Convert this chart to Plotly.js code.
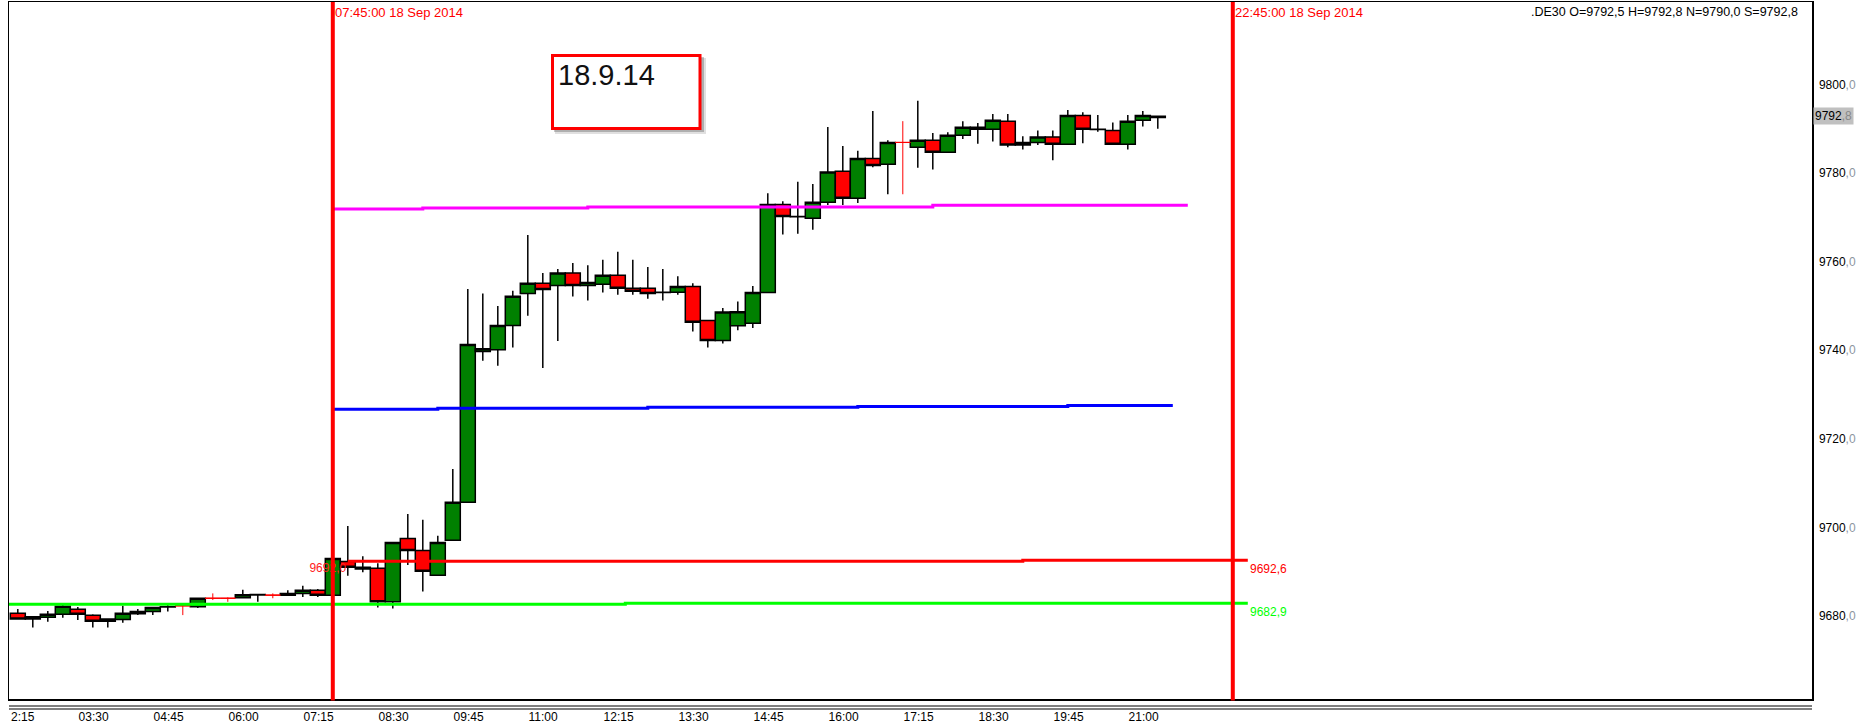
<!DOCTYPE html>
<html><head><meta charset="utf-8">
<script src="https://cdn.plot.ly/plotly-3.0.1.min.js"></script>
<style>html,body{margin:0;padding:0;background:#fff;}#chart{width:1857px;height:726px;}</style>
</head><body><div id="chart"></div>
<script>
// ---------------- DATA ----------------
const DAY = '2014-09-18 ';
const instrument = '.DE30';
const candleTime = ['02:30','02:45','03:00','03:15','03:30','03:45','04:00','04:15','04:30','04:45','05:00','05:30','06:15','06:30','07:00','07:15','07:30','07:45','08:00','08:15','08:30','08:45','09:00','09:15','09:30','09:45','10:00','10:15','10:30','10:45','11:00','11:15','11:30','11:45','12:00','12:15','12:30','12:45','13:00','13:15','13:30','13:45','14:00','14:15','14:30','14:45','15:00','15:15','15:30','15:45','16:00','16:15','16:30','16:45','17:00','17:30','17:45','18:00','18:15','18:30','18:45','19:00','19:15','19:30','19:45','20:00','20:15','20:30','20:45','21:00','21:15','21:30'];
const candleOpen  = [9680.6,9679.3,9679.7,9680.4,9681.5,9680.15,9678.8,9679.2,9680.5,9681.0,9682.0,9682.1,9684.1,9684.75,9684.7,9685.1,9685.8,9684.7,9692.3,9691.0,9690.8,9683.2,9697.5,9694.8,9689.2,9697.1,9705.7,9739.7,9740.1,9745.6,9752.8,9755.1,9754.6,9757.4,9754.6,9754.9,9756.9,9754.0,9754.0,9753.0,9753.1,9754.4,9746.7,9742.2,9745.5,9746.1,9753.0,9772.9,9770.1,9769.8,9773.4,9780.4,9774.3,9783.3,9782.0,9785.8,9787.4,9784.7,9788.5,9790.3,9789.9,9791.7,9786.3,9786.9,9788.1,9786.5,9793.0,9789.8,9789.6,9786.5,9791.9,9792.5];
const candleHigh  = [9681.6,9679.9,9681.1,9682.5,9682.0,9680.4,9679.5,9682.3,9681.6,9682.0,9682.5,9684.0,9685.9,9685.0,9685.8,9686.8,9686.1,9693.0,9700.3,9693.5,9691.9,9696.6,9703.0,9701.7,9698.1,9713.2,9753.8,9752.8,9750.0,9753.4,9766.0,9757.4,9758.3,9759.7,9759.2,9760.4,9762.2,9760.4,9758.8,9758.3,9756.7,9755.1,9746.7,9749.5,9751.0,9754.5,9775.4,9773.6,9778.0,9777.5,9790.4,9786.1,9785.0,9794.0,9787.4,9796.3,9789.0,9789.2,9791.7,9791.3,9793.3,9793.3,9788.3,9789.6,9789.6,9794.2,9793.7,9793.1,9791.4,9793.1,9794.0,9792.8];
const candleLow   = [9679.2,9677.4,9678.7,9679.6,9679.1,9677.4,9677.4,9678.5,9680.2,9680.2,9681.0,9681.8,9684.0,9683.2,9684.7,9684.3,9684.3,9684.7,9689.1,9689.9,9681.9,9681.7,9691.5,9685.5,9689.2,9697.1,9705.7,9737.6,9736.5,9740.6,9747.8,9736.0,9742.1,9752.1,9751.2,9753.0,9752.5,9752.5,9751.6,9751.2,9752.5,9744.2,9740.6,9741.5,9744.5,9745.0,9753.0,9766.1,9766.3,9767.2,9772.8,9772.8,9773.2,9781.3,9775.2,9781.2,9780.8,9784.7,9787.7,9786.6,9787.1,9785.8,9785.3,9786.3,9782.9,9786.5,9786.7,9789.3,9786.3,9785.3,9790.5,9790.0];
const candleClose = [9679.3,9679.85,9680.4,9682.2,9680.4,9678.8,9679.3,9680.6,9681.0,9681.9,9682.1,9684.0,9684.8,9684.85,9685.1,9685.8,9684.7,9693.0,9691.0,9690.6,9683.2,9696.6,9694.8,9690.1,9696.6,9705.7,9741.3,9740.3,9745.6,9752.2,9755.1,9753.7,9757.4,9754.6,9755.3,9756.9,9754.0,9753.3,9752.8,9753.1,9754.4,9746.3,9742.2,9748.6,9748.7,9753.0,9772.9,9770.2,9770.2,9773.4,9780.2,9774.3,9783.3,9781.7,9786.9,9787.4,9784.7,9788.5,9790.3,9789.9,9791.9,9786.3,9786.9,9788.1,9786.5,9793.0,9789.9,9789.9,9786.5,9791.7,9793.0,9792.8];

// unchanged bars (open = close), drawn as thin red crosses
const crossTime  = ['05:15','05:45','06:00','06:45','17:15'];
const crossLevel = [9682.3,9684.0,9684.0,9684.7,9786.9];
const crossHigh  = [9682.8,9685.1,9684.2,9685.1,9791.7];
const crossLow   = [9680.2,9683.6,9683.2,9684.0,9775.2];

// horizontal levels (step lines)
const greenLevelTime  = ['02:15','12:37:30','23:00'];
const greenLevelValue = [9682.65,9682.9,9682.9];
const redLevelTime    = ['08:00','19:15','23:00'];
const redLevelValue   = [9692.35,9692.6,9692.6];
const blueLevelTime   = ['07:45','09:30','13:00','16:30','20:00','21:45'];
const blueLevelValue  = [9726.65,9726.9,9727.1,9727.3,9727.5,9727.5];
const magentaLevelTime  = ['07:45','09:15','12:00','17:45','22:00'];
const magentaLevelValue = [9771.9,9772.1,9772.3,9772.7,9772.7];
const redStartLabel = ['9692,0'];
const redStartLabelTime = ['07:40'];
const redStartLabelValue = [9690.5];

// session markers
const markerTime  = ['07:45','22:45'];
const markerLabel = ['07:45:00 18 Sep 2014','22:45:00 18 Sep 2014'];

// axes
const xTickTime = ['03:30','04:45','06:00','07:15','08:30','09:45','11:00','12:15','13:30','14:45','16:00','17:15','18:30','19:45','21:00'];
const xFirstLabel = '2:15';
const yTickVals = [9680,9700,9720,9740,9760,9780,9800];
const noteText = '18.9.14';

// ---------------- BUILD ----------------
const T = a => a.map(t => DAY + t);
const fmt = v => v.toFixed(1).replace('.', ',');
const fmtSplit = (v, grey) => { const s = fmt(v).split(','); return s[0] + '<span style="color:' + grey + '">,' + s[1] + '</span>'; };

const W = 1857, H = 726, ML = 9, MR = 45, MT = 2, MB = 27;
const PW = W - ML - MR, PH = H - MT - MB;
const px = x => (x - ML) / PW;          // pixel -> paper x
const py = y => (H - MB - y) / PH;      // pixel -> paper y

const n = candleOpen.length;
const last = n - 1;

const traces = [
  {
    type: 'candlestick', x: T(candleTime), open: candleOpen, high: candleHigh, low: candleLow, close: candleClose,
    increasing: {line: {color: '#000', width: 1.5}, fillcolor: '#008000'},
    decreasing: {line: {color: '#000', width: 1.5}, fillcolor: '#ff0000'},
    whiskerwidth: 0, hoverinfo: 'skip'
  },
  {
    type: 'candlestick', x: T(crossTime), open: crossLevel, high: crossHigh, low: crossLow, close: crossLevel,
    increasing: {line: {color: '#ff0000', width: 1}, fillcolor: '#ff0000'},
    decreasing: {line: {color: '#ff0000', width: 1}, fillcolor: '#ff0000'},
    whiskerwidth: 0, hoverinfo: 'skip'
  },
  {type: 'scatter', mode: 'text', x: T(redStartLabelTime), y: redStartLabelValue, text: redStartLabel,
    textposition: 'middle center', textfont: {size: 12, color: '#ff2020'}, hoverinfo: 'skip', cliponaxis: false},
  {type: 'scatter', mode: 'lines', x: T(greenLevelTime), y: greenLevelValue, line: {color: '#00ff00', width: 3, shape: 'hv'}, hoverinfo: 'skip'},
  {type: 'scatter', mode: 'lines', x: T(redLevelTime), y: redLevelValue, line: {color: '#ff0000', width: 3, shape: 'hv'}, hoverinfo: 'skip'},
  {type: 'scatter', mode: 'lines', x: T(blueLevelTime), y: blueLevelValue, line: {color: '#0000ff', width: 3, shape: 'hv'}, hoverinfo: 'skip'},
  {type: 'scatter', mode: 'lines', x: T(magentaLevelTime), y: magentaLevelValue, line: {color: '#ff00ff', width: 3, shape: 'hv'}, hoverinfo: 'skip'}
];

const shapes = [];
// session markers
markerTime.forEach(t => shapes.push({type: 'line', xref: 'x', yref: 'paper', x0: DAY + t, x1: DAY + t, y0: -0.002, y1: 1,
  line: {color: '#ff0000', width: 4}}));
// note box with shadow
shapes.push({type: 'rect', xref: 'paper', yref: 'paper', x0: px(555), x1: px(706), y0: py(134), y1: py(58), line: {width: 0}, fillcolor: 'rgba(0,0,0,0.12)'});
shapes.push({type: 'rect', xref: 'paper', yref: 'paper', x0: px(554), x1: px(704), y0: py(132), y1: py(57), line: {width: 0}, fillcolor: 'rgba(0,0,0,0.22)'});
shapes.push({type: 'rect', xref: 'paper', yref: 'paper', x0: px(552.5), x1: px(700), y0: py(128.5), y1: py(55.5), line: {color: '#ff0000', width: 3}, fillcolor: '#ffffff'});
// double rule under the plot
[706, 709].forEach(y => shapes.push({type: 'line', xref: 'paper', yref: 'paper', x0: 0, x1: 1, y0: py(y), y1: py(y), line: {color: '#000', width: 1.2}}));

const annotations = [];
markerTime.forEach((t, i) => annotations.push({xref: 'x', yref: 'paper', x: DAY + t, y: 1, xanchor: 'left', yanchor: 'top',
  xshift: 0, yshift: -1, showarrow: false, text: markerLabel[i], font: {size: 13, color: '#ff0000'}}));
annotations.push({xref: 'paper', yref: 'paper', x: 1, y: 1, xanchor: 'right', yanchor: 'top', xshift: -12, yshift: -1, showarrow: false,
  text: instrument + ' O=' + fmt(candleOpen[last]) + ' H=' + fmt(candleHigh[last]) + ' N=' + fmt(candleLow[last]) + ' S=' + fmt(candleClose[last]),
  font: {size: 12.5, color: '#000'}});
annotations.push({xref: 'x', yref: 'y', x: DAY + redLevelTime[redLevelTime.length - 1], y: redLevelValue[redLevelValue.length - 1],
  xanchor: 'left', yanchor: 'top', showarrow: false, text: fmt(redLevelValue[redLevelValue.length - 1]), font: {size: 12, color: '#ff0000'}});
annotations.push({xref: 'x', yref: 'y', x: DAY + greenLevelTime[greenLevelTime.length - 1], y: greenLevelValue[greenLevelValue.length - 1],
  xanchor: 'left', yanchor: 'top', showarrow: false, text: fmt(greenLevelValue[greenLevelValue.length - 1]), font: {size: 12, color: '#00ff00'}});
annotations.push({xref: 'paper', yref: 'y', x: 1, y: candleClose[last], xanchor: 'left', yanchor: 'middle', xshift: 1, showarrow: false,
  text: fmtSplit(candleClose[last], '#888888'), bgcolor: '#c0c0c0', borderpad: 1, font: {size: 12, color: '#000'}});
annotations.push({xref: 'paper', yref: 'paper', x: px(556), y: py(75), xanchor: 'left', yanchor: 'middle', showarrow: false,
  text: noteText, font: {size: 29, color: '#111'}});
annotations.push({xref: 'paper', yref: 'paper', x: 0, y: 0, xanchor: 'left', yanchor: 'middle', yshift: -17.7, showarrow: false,
  text: xFirstLabel, font: {size: 12, color: '#000'}});

const layout = {
  width: W, height: H,
  margin: {l: ML, r: MR, t: MT, b: MB, pad: 0},
  paper_bgcolor: '#fff', plot_bgcolor: '#fff',
  showlegend: false, hovermode: false, dragmode: false,
  boxgap: 0, boxgroupgap: 0,
  font: {family: 'Liberation Sans, Arial, sans-serif', size: 12, color: '#000'},
  xaxis: {
    type: 'date', range: [DAY + '02:21:12', '2014-09-19 08:24:12'],
    showgrid: false, zeroline: false, showline: true, mirror: true, linecolor: '#000', linewidth: 1.5,
    tickmode: 'array', tickvals: T(xTickTime), ticktext: xTickTime, ticks: '',
    ticklabelposition: 'outside right', ticklabelstandoff: 6,
    rangeslider: {visible: false}, fixedrange: true
  },
  yaxis: {
    side: 'right', range: [9661.26, 9818.6],
    showgrid: false, zeroline: false, showline: true, mirror: true, linecolor: '#000', linewidth: 1.5,
    tickmode: 'array', tickvals: yTickVals, ticktext: yTickVals.map(v => fmtSplit(v, '#8c96a0')), ticks: '',
    ticklabelstandoff: 3, fixedrange: true
  },
  shapes: shapes, annotations: annotations
};

Plotly.newPlot('chart', traces, layout, {staticPlot: true, displayModeBar: false});
</script>
</body></html>
